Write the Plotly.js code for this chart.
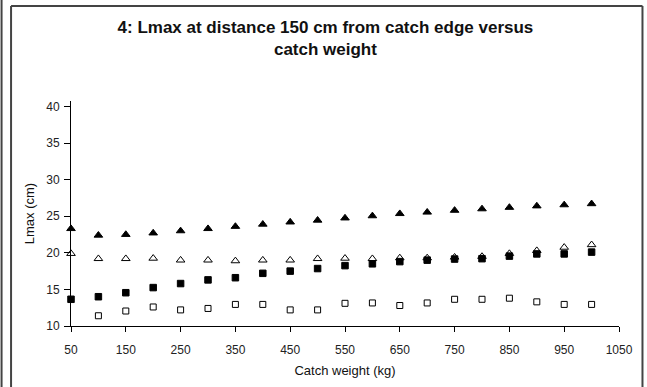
<!DOCTYPE html>
<html>
<head>
<meta charset="utf-8">
<script src="https://cdn.plot.ly/plotly-3.0.1.min.js"></script>
<style>html,body{margin:0;padding:0;background:#fff;}#chart{width:647px;height:387px;}</style>
</head>
<body>
<div id="chart"></div>
<script>
var catchWeight = [50,100,150,200,250,300,350,400,450,500,550,600,650,700,750,800,850,900,950,1000];
var filledTriangle = [23.3,22.4,22.5,22.7,23.0,23.3,23.6,23.9,24.2,24.45,24.75,25.05,25.35,25.55,25.8,26.0,26.2,26.4,26.55,26.7];
var openTriangle = [19.9,19.2,19.2,19.25,19.0,19.0,18.9,19.0,19.0,19.2,19.25,19.2,19.3,19.3,19.4,19.5,19.9,20.3,20.75,21.1];
var filledSquare = [13.65,14.0,14.55,15.25,15.8,16.3,16.6,17.2,17.5,17.85,18.25,18.5,18.8,19.0,19.15,19.2,19.55,19.85,19.85,20.1];
var openSquare = [null,11.4,12.05,12.6,12.2,12.4,12.95,12.95,12.2,12.2,13.1,13.15,12.8,13.15,13.65,13.65,13.8,13.3,12.95,12.95];
var xTicks = [50,150,250,350,450,550,650,750,850,950,1050];
var yTicks = [10,15,20,25,30,35,40];

var font = 'Liberation Sans, Arial, sans-serif';
function tr(y, sym, fill, size, name){
  return {x: catchWeight, y: y, type:'scatter', mode:'markers', name:name, showlegend:false,
    cliponaxis:false,
    marker:{symbol:sym, size:size, color:fill, line:{color:'#000', width:1}}};
}
var data = [
  tr(filledTriangle,'triangle-up','#000',7.5,'Filled triangles'),
  tr(openTriangle,'triangle-up','#fff',7.5,'Open triangles'),
  tr(filledSquare,'square','#000',6.5,'Filled squares'),
  tr(openSquare,'square','#fff',6,'Open squares')
];
function px2x(p){ return (p-71)/548.5; }
function px2y(p){ return (326-p)/225; }
var frameColor = '#444';
var layout = {
  width:647, height:387,
  margin:{l:71, r:28, t:101, b:61},
  paper_bgcolor:'#fff', plot_bgcolor:'#fff',
  font:{family:font, size:12, color:'#222'},
  title:{text:'<b>4: Lmax at distance 150 cm from catch edge versus<br>catch weight</b>',
    font:{family:font, size:17, color:'#111'}, xref:'container', x:0.503, xanchor:'center',
    yref:'container', y:1-33/387, yanchor:'top'},
  xaxis:{range:[50,1050], tickvals:xTicks, ticktext:xTicks.map(String), showgrid:false, zeroline:false,
    showline:true, linecolor:'#000', linewidth:1, ticks:'outside', ticklen:5, tickcolor:'#000',
    ticklabelstandoff:8,
    tickfont:{family:font, size:12, color:'#222'},
    title:{text:'Catch weight (kg)', font:{family:font, size:13, color:'#111'}, standoff:9}},
  yaxis:{range:[10,40.75], tickvals:yTicks, ticktext:yTicks.map(String), showgrid:false, zeroline:false,
    showline:true, linecolor:'#000', linewidth:1, ticks:'outside', ticklen:6, tickcolor:'#000',
    ticklabelstandoff:2,
    tickfont:{family:font, size:12, color:'#222'},
    title:{text:'Lmax (cm)', font:{family:font, size:13, color:'#111'}, standoff:8}},
  shapes:[
    {type:'line', xref:'paper', yref:'paper', x0:px2x(11), x1:px2x(643), y0:px2y(6), y1:px2y(6), line:{color:frameColor, width:2}},
    {type:'line', xref:'paper', yref:'paper', x0:px2x(11), x1:px2x(11), y0:px2y(6), y1:px2y(400), line:{color:frameColor, width:2}},
    {type:'line', xref:'paper', yref:'paper', x0:px2x(643), x1:px2x(643), y0:px2y(6), y1:px2y(400), line:{color:frameColor, width:2}},
    {type:'line', xref:'paper', yref:'paper', x0:px2x(1.5), x1:px2x(1.5), y0:px2y(-10), y1:px2y(400), line:{color:frameColor, width:2}}
  ]
};
Plotly.newPlot('chart', data, layout, {displayModeBar:false, staticPlot:true});
</script>
</body>
</html>
